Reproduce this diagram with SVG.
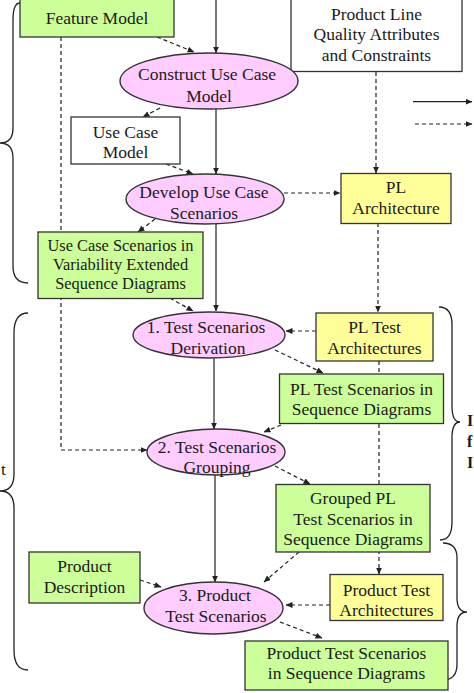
<svg xmlns="http://www.w3.org/2000/svg" width="474" height="693" viewBox="0 0 474 693">
<defs>
<marker id="ah" markerWidth="7" markerHeight="6" refX="6.5" refY="3" orient="auto" markerUnits="userSpaceOnUse">
<path d="M0,0 L7,3 L0,6 Z" fill="#222"/>
</marker>
<style>
.g{fill:#ccff99;stroke:#333;stroke-width:1.3}
.y{fill:#ffff99;stroke:#333;stroke-width:1.3}
.w{fill:#fff;stroke:#333;stroke-width:1.3}
.p{fill:#ffccff;stroke:#333;stroke-width:1.4}
text{font-family:"Liberation Serif","Times New Roman",serif;font-size:17.5px;fill:#1a1a1a;text-anchor:middle}
.sm{font-size:16.4px}
.b{font-weight:bold;text-anchor:start;font-size:16px}
.s{fill:none;stroke:#222;stroke-width:1.2;marker-end:url(#ah)}
.d{fill:none;stroke:#222;stroke-width:1.2;stroke-dasharray:4,3;marker-end:url(#ah)}
.br{fill:none;stroke:#222;stroke-width:1.3}
</style>
</defs>
<rect width="474" height="693" fill="#fff"/>

<g id="connectors">
<path class="s" d="M216,0 L216,53"/>
<path class="s" d="M216,109 L216,174"/>
<path class="s" d="M216,224 L216,311"/>
<path class="s" d="M214,358 L214,429"/>
<path class="s" d="M215,475 L215,582"/>
<path class="d" d="M157,37 L194,52"/>
<path class="d" d="M160,108 L143,117"/>
<path class="d" d="M166,164 L193,174"/>
<path class="d" d="M376,72 L376,173"/>
<path class="d" d="M284,193 L340,193"/>
<path class="d" d="M155,219 L138,232"/>
<path class="d" d="M170,298 L193,311"/>
<path class="d" d="M378,223 L378,312"/>
<path class="d" d="M316,331 L286,331"/>
<path class="d" d="M275,350 L323,373"/>
<path class="d" d="M379,361 L379,574"/>
<path class="d" d="M281,425 L264,432"/>
<path class="d" d="M61,37 L61,450 L147,450"/>
<path class="d" d="M275,466 L310,484"/>
<path class="d" d="M299,552 L264,582"/>
<path class="d" d="M140,580 L161,587"/>
<path class="d" d="M330,605 L286,605"/>
<path class="d" d="M280,622 L322,638"/>
<path class="s" d="M413,101.7 L472,101.7"/>
<path class="d" d="M415,124 L472,124"/>
</g>

<g id="braces">
<path class="br" d="M20,3 Q13,3 13,20 L13,128 Q13,143 0,143 Q13,143 13,158 L13,266 Q13,283 28,283"/>
<path class="br" d="M28,313 Q14,313 14,333 L14,474 Q14,491 0,491 Q14,491 14,508 L14,650 Q14,670 28,670"/>
<path class="br" d="M439,307 Q452,307 452,325 L452,406 Q452,422 460,422 Q452,422 452,438 L452,522 Q452,540 440,540"/>
<path class="br" d="M443,543 Q457,543 457,558 L457,598 Q457,612 467,612 Q457,612 457,626 L457,664 Q457,680 443,680"/>
</g>

<g id="feature-model">
<rect class="g" x="20" y="-1" width="154" height="38"/>
<text x="97" y="24">Feature Model</text>
</g>
<g id="quality">
<rect class="w" x="291" y="-1" width="171" height="72.5"/>
<text x="376.5" y="19.5">Product Line</text>
<text x="376.5" y="40">Quality Attributes</text>
<text x="376.5" y="60.5">and Constraints</text>
</g>
<g id="construct">
<ellipse class="p" cx="209" cy="81" rx="89" ry="28"/>
<text x="207" y="80">Construct Use Case</text>
<text x="209" y="101.5">Model</text>
</g>
<g id="use-case-model">
<rect class="w" x="71" y="117" width="109" height="47"/>
<text x="125.5" y="137.5">Use Case</text>
<text x="125.5" y="157.5">Model</text>
</g>
<g id="develop">
<ellipse class="p" cx="205" cy="199" rx="79" ry="25"/>
<text x="204" y="197.5">Develop Use Case</text>
<text x="204" y="218.5">Scenarios</text>
</g>
<g id="pl-architecture">
<rect class="y" x="341" y="173.5" width="110" height="50"/>
<text x="396" y="192.5">PL</text>
<text x="396" y="214">Architecture</text>
</g>
<g id="ved">
<rect class="g" x="38" y="232" width="165" height="66.5"/>
<text class="sm" x="120.5" y="251">Use Case Scenarios in</text>
<text class="sm" x="120.5" y="270">Variability Extended</text>
<text class="sm" x="120.5" y="289">Sequence Diagrams</text>
</g>
<g id="test-derivation">
<ellipse class="p" cx="209" cy="335" rx="76" ry="23"/>
<text x="206" y="332.5">1. Test Scenarios</text>
<text x="208" y="353.5">Derivation</text>
</g>
<g id="pl-test-arch">
<rect class="y" x="316" y="313" width="117" height="48"/>
<text x="374.5" y="332.5">PL Test</text>
<text x="374.5" y="354">Architectures</text>
</g>
<g id="pl-test-scenarios">
<rect class="g" x="279.5" y="374" width="164" height="49.5"/>
<text x="361.5" y="395">PL Test Scenarios in</text>
<text x="361.5" y="415">Sequence Diagrams</text>
</g>
<g id="test-grouping">
<ellipse class="p" cx="216" cy="452" rx="69" ry="23"/>
<text x="217" y="453">2. Test Scenarios</text>
<text x="217" y="472.5">Grouping</text>
</g>
<g id="grouped">
<rect class="g" x="276" y="484.5" width="154" height="67.5"/>
<text x="353" y="503.5">Grouped PL</text>
<text x="353" y="524.5">Test Scenarios in</text>
<text x="353" y="545">Sequence Diagrams</text>
</g>
<g id="product-description">
<rect class="g" x="29" y="552" width="111" height="51"/>
<text x="84.5" y="571.5">Product</text>
<text x="84.5" y="592.5">Description</text>
</g>
<g id="product-test-scenarios">
<ellipse class="p" cx="213.5" cy="608" rx="69.5" ry="26"/>
<text x="215" y="601">3. Product</text>
<text x="216" y="622">Test Scenarios</text>
</g>
<g id="product-test-arch">
<rect class="y" x="330" y="574.5" width="113" height="46"/>
<text x="386.5" y="595.5">Product Test</text>
<text x="386.5" y="616">Architectures</text>
</g>
<g id="product-test-sd">
<rect class="g" x="245" y="641" width="203" height="49"/>
<text x="346.5" y="659">Product Test Scenarios</text>
<text x="346.5" y="679">in Sequence Diagrams</text>
</g>

<g id="cut-labels">
<text x="1" y="475" style="text-anchor:start">t</text>
<text class="b" x="467" y="426">I</text>
<text class="b" x="467" y="447">f</text>
<text class="b" x="467" y="468">I</text>
</g>
</svg>
